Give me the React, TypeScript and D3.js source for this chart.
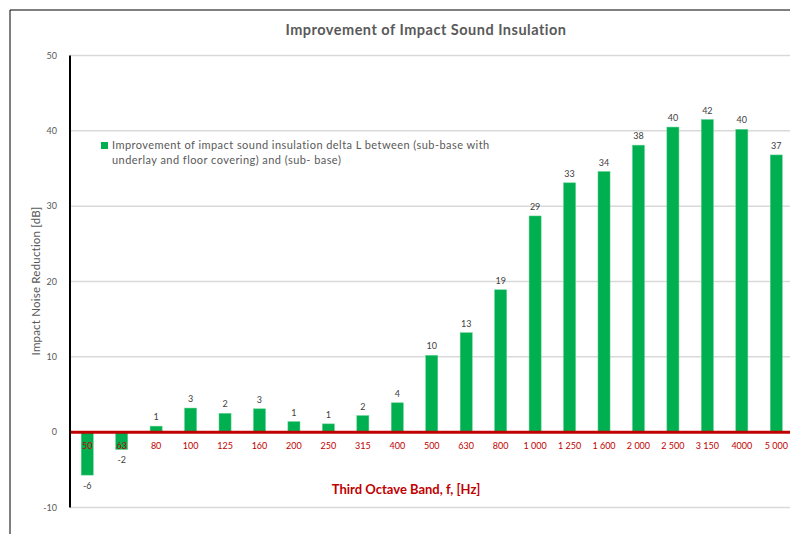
import React from "react";
import * as d3 from "d3";

const categories = ["50", "63", "80", "100", "125", "160", "200", "250", "315", "400", "500", "630", "800", "1 000", "1 250", "1 600", "2 000", "2 500", "3 150", "4000", "5 000"];
const values = [-5.7, -2.3, 0.8, 3.2, 2.5, 3.1, 1.4, 1.1, 2.2, 3.9, 10.2, 13.2, 18.9, 28.7, 33.1, 34.6, 38.1, 40.5, 41.5, 40.2, 36.8];
const valueLabels = ["-6", "-2", "1", "3", "2", "3", "1", "1", "2", "4", "10", "13", "19", "29", "33", "34", "38", "40", "42", "40", "37"];
const yTicks = [-10, 0, 10, 20, 30, 40, 50];

const W = 790, H = 534;
const plotLeft = 70, plotRight = 793.5, plotTop = 55.5, plotBottom = 507.5;
const FONT = "Lato, 'Open Sans', sans-serif";
const GRAY = "#595959";

export default function App() {
  const x = d3.scaleBand<string>().domain(categories).range([plotLeft, plotRight]).paddingInner(0.65).paddingOuter(0.325);
  const y = d3.scaleLinear().domain([-10, 50]).range([plotBottom, plotTop]);
  const y0 = y(0);
  return (
    <svg width={W} height={H} style={{ position: "absolute", left: 0, top: 0, background: "#fff" }} fontFamily={FONT}>
      <rect x={0} y={0} width={W} height={H} fill="#fff" />
      {/* outer frame */}
      <line x1={10} y1={10} x2={W} y2={10} stroke="#000" strokeWidth={1} />
      <line x1={10} y1={10} x2={10} y2={H} stroke="#000" strokeWidth={1} />
      {/* title */}
      <text x={426} y={35} textAnchor="middle" fontSize={14.5} letterSpacing={0.5} fontWeight="bold" fill={GRAY}>Improvement of Impact Sound Insulation</text>
      {/* gridlines */}
      {yTicks.map((t) => (
        <line key={t} x1={plotLeft} x2={W} y1={y(t)} y2={y(t)} stroke="#D9D9D9" strokeWidth={1.5} />
      ))}
      {/* y tick labels */}
      {yTicks.map((t) => (
        <text key={"l" + t} x={57} y={y(t) + 3} textAnchor="end" fontSize={9} fill={GRAY}>{t}</text>
      ))}
      {/* bars */}
      {values.map((v, i) => {
        const bx = x(categories[i])!;
        const top = Math.min(y(v), y0);
        const h = Math.abs(y(v) - y0);
        return <rect key={i} x={bx} y={top} width={x.bandwidth()} height={h} fill="#00B050" stroke="#5fd08f" strokeWidth={0.5} />;
      })}
      {/* zero line */}
      <line x1={plotLeft} x2={W} y1={y0} y2={y0} stroke="#C00000" strokeWidth={3} />
      {/* y axis line */}
      <line x1={plotLeft} x2={plotLeft} y1={plotTop} y2={plotBottom} stroke="#000" strokeWidth={2} />
      {/* value labels */}
      {values.map((v, i) => {
        const cx = x(categories[i])! + x.bandwidth() / 2;
        const ly = v >= 0 ? y(v) - 6 : y(v) + 14;
        return <text key={"v" + i} x={cx} y={ly} textAnchor="middle" fontSize={9} fill="#404040">{valueLabels[i]}</text>;
      })}
      {/* category labels */}
      {categories.map((c) => (
        <text key={"c" + c} x={x(c)! + x.bandwidth() / 2} y={y0 + 17} textAnchor="middle" fontSize={9} fill="#C00000">{c}</text>
      ))}
      {/* x axis title */}
      <text x={406} y={494} textAnchor="middle" fontSize={13} fontWeight="bold" fill="#C00000">Third Octave Band, f, [Hz]</text>
      {/* y axis title */}
      <text transform={`translate(40,281) rotate(-90)`} textAnchor="middle" fontSize={11.5} letterSpacing={0.2} fill={GRAY}>Impact Noise Reduction [dB]</text>
      {/* legend */}
      <rect x={101} y={142} width={7} height={7} fill="#00B050" />
      <text x={112} y={149} fontSize={11} letterSpacing={0.45} fill={GRAY}>Improvement of impact sound insulation delta L between (sub-base with</text>
      <text x={112} y={164} fontSize={11} letterSpacing={0.45} fill={GRAY}>underlay and floor covering) and (sub- base)</text>
    </svg>
  );
}
